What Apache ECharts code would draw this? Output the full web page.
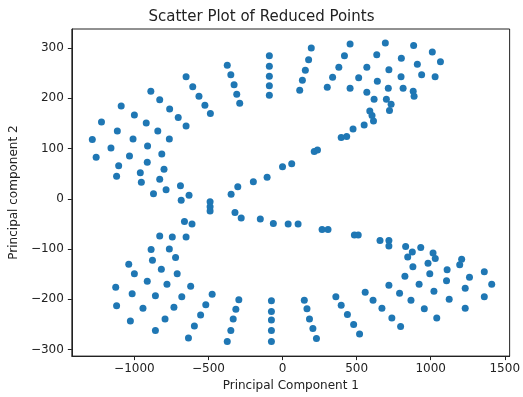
<!DOCTYPE html>
<html>
<head>
<meta charset="utf-8">
<script src="https://cdn.jsdelivr.net/npm/echarts@6/dist/echarts.min.js"></script>
<style>
  html, body { margin: 0; padding: 0; background: #fff; }
  #chart { width: 523px; height: 397px; }
</style>
</head>
<body>
<div id="chart"></div>
<script>
// points, grouped by region
var upperLeft = [
  [-89, 285], [-89, 264], [-89, 244], [-89, 225], [-89, 206],
  [-373, 266], [-349, 247], [-327, 227], [-309, 208], [-289, 190],
  [-651, 243], [-606, 223], [-564, 204], [-524, 186], [-487, 170],
  [-889, 214], [-829, 197], [-762, 179], [-704, 162], [-651, 145],
  [-1089, 185], [-1000, 167], [-920, 151], [-842, 135], [-764, 119],
  [-1222, 153], [-1284, 118], [-1115, 135], [-1009, 119], [-1158, 101],
  [-911, 105], [-1258, 83], [-1033, 85], [-815, 89], [-1106, 66],
  [-913, 73], [-800, 59], [-1120, 45], [-960, 52], [-953, 33],
  [-829, 39], [-786, 18], [-871, 10], [-689, 26], [-631, 7], [-684, -3]
]
var middleBand = [
  [-489, -6], [-489, -16], [-489, -24],
  [-347, 9], [-302, 24], [-197, 34], [-104, 43], [0, 64], [62, 70],
  [214, 94], [236, 97], [396, 122], [433, 124], [476, 139], [551, 147],
  [614, 155], [604, 166], [589, 175],
  [-321, -27], [-279, -38], [-150, -40], [-62, -49], [38, -50], [105, -50],
  [267, -61], [307, -61], [485, -72], [511, -72], [658, -83], [718, -83], [718, -94]
]
var upperRight = [
  [618, 198], [569, 212], [722, 176], [733, 188], [701, 198], [714, 220],
  [718, 257], [640, 234], [569, 262], [636, 287], [694, 310],
  [514, 241], [456, 220], [380, 262], [418, 285], [456, 308],
  [338, 242], [302, 222], [194, 300], [176, 277], [154, 256], [134, 236], [116, 216],
  [802, 280], [800, 243], [814, 220], [882, 214], [888, 204],
  [885, 305], [910, 268], [939, 247], [1011, 292], [1066, 273], [1030, 243]
]
var lowerLeft = [
  [-662, -45], [-611, -50], [-829, -74], [-744, -76], [-651, -76],
  [-887, -101], [-764, -100], [-878, -122], [-722, -117], [-1038, -130],
  [-818, -140], [-1000, -149], [-711, -149], [-913, -164], [-780, -170],
  [-1126, -176], [-620, -174], [-1015, -189], [-858, -193], [-680, -195],
  [-475, -190], [-1120, -213], [-942, -218], [-733, -216], [-518, -211],
  [-1027, -243], [-793, -239], [-553, -231], [-595, -253], [-858, -262], [-635, -277],
  [-295, -201], [-315, -220], [-333, -239], [-349, -262], [-373, -284],
  [-75, -203], [-75, -224], [-75, -241], [-75, -262], [-75, -284]
]
var lowerRight = [
  [831, -95], [876, -106], [845, -116], [933, -97], [1016, -108], [1031, -119],
  [982, -128], [880, -135], [1209, -120], [1196, -131], [1111, -141], [994, -149],
  [826, -154], [1262, -156], [1362, -145], [1107, -163], [922, -170], [718, -172],
  [1412, -170], [1233, -178], [1022, -184], [790, -188], [558, -186], [1362, -195],
  [1125, -200], [867, -202], [611, -202],
  [360, -195], [396, -212], [438, -230], [480, -250], [520, -269],
  [671, -218], [738, -237], [797, -254], [957, -219], [1041, -237], [1233, -218],
  [147, -202], [165, -219], [182, -239], [205, -258], [229, -278]
]
var xTicks = [-1000, -500, 0, 500, 1000, 1500]
var yTicks = [-300, -200, -100, 0, 100, 200, 300]

var points = upperLeft.concat(middleBand, upperRight, lowerLeft, lowerRight)

function minus(v) {
  return String(v).replace('-', '\u2212')
}

var myChart = echarts.init(document.getElementById('chart'))
var option = {
  animation: false,
  textStyle: { fontFamily: 'DejaVu Sans' },
  title: {
    text: 'Scatter Plot of Reduced Points',
    left: 'center',
    top: 5,
    textStyle: { fontSize: 15, fontWeight: 'normal', color: '#222', fontFamily: 'DejaVu Sans' }
  },
  grid: {
    left: 70,
    right: 10,
    top: 29,
    bottom: 38,
    show: true,
    borderColor: '#222',
    borderWidth: 1
  },
  xAxis: {
    type: 'value',
    min: -1422,
    max: 1533,
    name: 'Principal Component 1',
    nameLocation: 'middle',
    nameGap: 21,
    nameTextStyle: { fontSize: 12, color: '#222' },
    axisLine: { onZero: false, lineStyle: { color: '#222' } },
    axisTick: { show: true, length: 4, customValues: xTicks, lineStyle: { color: '#222' } },
    axisLabel: { fontSize: 12, color: '#222', margin: 7, customValues: xTicks, formatter: minus },
    splitLine: { show: false }
  },
  yAxis: {
    type: 'value',
    min: -313,
    max: 338,
    name: 'Principal component 2',
    nameLocation: 'middle',
    nameGap: 49,
    nameTextStyle: { fontSize: 12, color: '#222' },
    axisLine: { show: true, onZero: false, lineStyle: { color: '#222' } },
    axisTick: { show: true, length: 4, customValues: yTicks, lineStyle: { color: '#222' } },
    axisLabel: { fontSize: 12, color: '#222', margin: 8, customValues: yTicks, formatter: minus },
    splitLine: { show: false }
  },
  series: [
    {
      type: 'scatter',
      data: points,
      symbolSize: 7,
      itemStyle: { color: '#1f77b4', opacity: 1 }
    }
  ]
}
myChart.setOption(option)
</script>
</body>
</html>
